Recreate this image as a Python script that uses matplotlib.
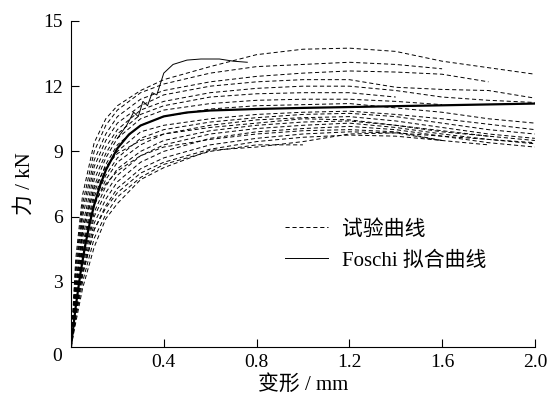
import numpy as np
import matplotlib
matplotlib.use('Agg')
import matplotlib.pyplot as plt
from matplotlib.lines import Line2D

plt.rcParams['font.family'] = ['Liberation Serif', 'Noto Sans CJK SC']
plt.rcParams['lines.scale_dashes'] = False

nan = np.nan

# deformation grid (mm) shared by the test curves
X_GRID = [0, 0.02, 0.05, 0.1, 0.15, 0.2, 0.3, 0.4, 0.6, 0.8, 1.0, 1.2, 1.4, 1.6, 1.8, 2.0]

# test curves, force in kN (nan = curve stopped)
test_curves = [
    [0, 4.0, 7.0, 9.4, 10.5, 11.1, 11.8, 12.3, 12.9, 13.45, 13.7, 13.75, 13.6, 13.15, 12.85, 12.55],
    [0, 3.6, 6.6, 9.0, 10.2, 10.9, 11.7, 12.1, 12.6, 12.9, 13.0, 13.1, 13.0, 12.8, nan, nan],
    [0, 3.3, 6.3, 8.6, 9.8, 10.6, 11.4, 11.8, 12.2, 12.45, 12.6, 12.7, 12.65, 12.55, 12.2, nan],
    [0, 3.0, 6.0, 8.3, 9.5, 10.3, 11.1, 11.6, 12.0, 12.2, 12.3, 12.3, 11.95, 11.85, 11.8, 11.45],
    [0, 2.7, 5.6, 8.0, 9.2, 10.0, 10.9, 11.3, 11.7, 11.9, 12.0, 12.0, 11.8, 11.5, 11.35, 11.25],
    [0, 2.5, 5.3, 7.7, 8.9, 9.8, 10.7, 11.1, 11.5, 11.65, 11.7, 11.7, 11.5, nan, nan, nan],
    [0, 2.3, 5.0, 7.4, 8.7, 9.6, 10.5, 10.9, 11.2, 11.35, 11.4, 11.4, 11.3, 11.15, nan, nan],
    [0, 2.1, 4.7, 7.1, 8.4, 9.3, 10.2, 10.6, 10.95, 11.1, 11.15, 11.2, 11.0, 10.8, 10.5, 10.3],
    [0, 2.0, 4.5, 6.9, 8.2, 9.0, 9.9, 10.2, 10.5, 10.7, 10.8, 10.85, 10.7, 10.5, 10.25, 10.0],
    [0, 1.9, 4.3, 6.7, 7.9, 8.7, 9.6, 10.0, 10.35, 10.55, 10.7, 10.75, 10.6, 10.3, 10.0, 9.8],
    [0, 2.6, 5.4, 7.3, 8.3, 8.9, 9.5, 9.8, 10.1, 10.3, 10.5, 10.45, 10.2, 9.95, 9.7, nan],
    [0, 1.8, 4.1, 6.5, 7.7, 8.5, 9.3, 9.8, 10.2, 10.45, 10.55, 10.6, 10.4, 10.1, 9.8, 9.6],
    [0, 1.7, 3.9, 6.2, 7.4, 8.2, 9.0, 9.5, 9.95, 10.2, 10.35, 10.4, 10.2, 9.9, 9.7, 9.5],
    [0, 2.2, 4.6, 6.6, 7.5, 8.1, 8.8, 9.2, 9.55, 9.8, 9.95, 10.0, 9.9, 9.5, nan, nan],
    [0, 1.6, 3.7, 6.0, 7.1, 7.9, 8.8, 9.3, 9.8, 10.05, 10.2, 10.3, 10.1, 9.8, 9.55, 9.35],
    [0, 1.5, 3.5, 5.7, 6.8, 7.6, 8.5, 9.0, 9.6, 9.9, 10.05, 10.15, 10.0, 9.7, 9.4, 9.2],
    [0, 1.4, 3.3, 5.4, 6.5, 7.3, 8.2, 8.7, 9.3, 9.6, 9.8, 9.9, 9.85, 9.7, 9.55, 9.4],
    [0, 1.5, 3.4, 5.4, 6.4, 7.1, 8.0, 8.5, 9.1, 9.45, 9.65, 9.75, 9.7, 9.5, 9.3, nan],
    [0, 1.3, 3.0, 5.0, 6.1, 6.9, 7.8, 8.4, 9.0, 9.3, 9.3, nan, nan, nan, nan, nan],
    [0, 1.1, 2.7, 4.6, 5.9, 6.6, 7.7, 8.25, 9.05, 9.2, 9.45, 9.8, 9.85, 9.5, nan, nan],
]

# part of one test curve that was recorded as a thin solid line
seg_x = [0.20, 0.24, 0.27, 0.29, 0.31, 0.33, 0.35, 0.37, 0.40, 0.44, 0.50, 0.56, 0.64, 0.70, 0.76]
seg_y = [9.6, 10.2, 10.8, 10.6, 11.3, 11.1, 11.7, 11.6, 12.6, 13.0, 13.2, 13.25, 13.25, 13.15, 13.1]

# Foschi fitted curve
foschi_x = [0, 0.02, 0.04, 0.06, 0.08, 0.1, 0.125, 0.15, 0.2, 0.25, 0.3, 0.4, 0.5, 0.6, 0.8, 1.0, 1.4, 2.0]
foschi_y = [0, 1.83, 3.34, 4.61, 5.66, 6.54, 7.42, 8.13, 9.14, 9.78, 10.19, 10.61, 10.79, 10.88, 10.95, 11.0, 11.08, 11.2]

x_ticks = [0.4, 0.8, 1.2, 1.6, 2.0]
y_ticks = [3, 6, 9, 12, 15]

fig = plt.figure(figsize=(5.47, 4.01), dpi=100)
ax = fig.add_axes([0.1298, 0.1347, 0.848, 0.813])

dash = (0, (3, 2))
for ys in test_curves:
    ax.plot(X_GRID, ys, color='black', lw=0.7, linestyle=dash)
ax.plot(seg_x, seg_y, color='black', lw=0.7)
ax.plot(foschi_x, foschi_y, color='black', lw=1.6)

ax.set_xlim(0, 2.0)
ax.set_ylim(0, 15)
ax.set_xticks(x_ticks)
ax.set_xticklabels([f'{v:.1f}' for v in x_ticks])
ax.set_yticks(y_ticks)
ax.set_yticklabels([str(v) for v in y_ticks])
ax.tick_params(direction='in', length=6, width=0.8, labelsize=14)
ax.tick_params(axis='x', pad=5)
ax.tick_params(axis='y', pad=6)
for s in ['top', 'right']:
    ax.spines[s].set_visible(False)
for s in ['left', 'bottom']:
    ax.spines[s].set_linewidth(0.8)

ax.text(-0.02, -0.03, '0', transform=ax.transAxes, ha='right', va='center', fontsize=14)
ax.set_xlabel('变形 / mm', fontsize=15, labelpad=3)
ax.set_ylabel('力 / kN', fontsize=15, labelpad=6)

handles = [Line2D([], [], color='black', lw=0.7, linestyle=dash),
           Line2D([], [], color='black', lw=0.7)]
ax.legend(handles, ['试验曲线', 'Foschi 拟合曲线'], frameon=False, fontsize=15,
          loc='upper left', bbox_to_anchor=(0.42, 0.447), handlelength=2.1,
          handletextpad=0.65, labelspacing=0.55)

fig.savefig('out.png', dpi=100)
